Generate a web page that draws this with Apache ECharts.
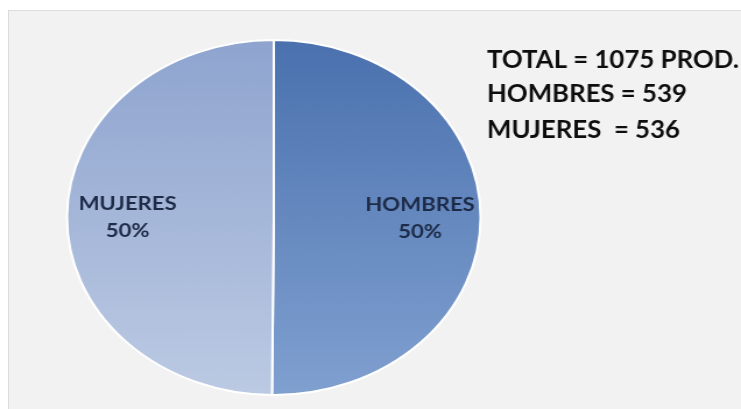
<!DOCTYPE html>
<html>
<head>
<meta charset="utf-8">
<script src="https://cdn.jsdelivr.net/npm/echarts@6/dist/echarts.min.js"></script>
<style>
  html, body { margin: 0; padding: 0; background: #ffffff; }
  #panel {
    position: absolute; left: 8px; top: 10px; width: 733px; height: 399px;
    background: #f2f2f2; border-top: 1px solid #dcdcdc; border-left: 1px solid #dcdcdc;
  }
  /* Chart is laid out at its native width and widened to fill the frame */
  #chart {
    position: absolute; left: 0; top: 0; width: 636px; height: 409px;
    transform-origin: 0 0; transform: scaleX(1.16509);
  }
</style>
</head>
<body>
<div id="panel"></div>
<div id="chart"></div>
<script>
// Productores por sexo
const categories = ['HOMBRES', 'MUJERES'];
const values = [539, 536];
const sliceTop = ['#4a71ae', '#8ea4cf'];
const sliceBottom = ['#80a0d0', '#bccae3'];

const total = values.reduce((a, b) => a + b, 0);
const summaryLines = [
  'TOTAL = ' + total + ' PROD.',
  categories[0] + ' = ' + values[0],
  categories[1] + '  = ' + values[1]
];
const summaryY = [59.5, 93.5, 130];

const pieData = categories.map((name, i) => ({
  name: name,
  value: values[i],
  itemStyle: {
    color: new echarts.graphic.LinearGradient(0, 0, 0, 1, [
      { offset: 0, color: sliceTop[i] },
      { offset: 1, color: sliceBottom[i] }
    ])
  }
}));

const chart = echarts.init(document.getElementById('chart'), null, { renderer: 'canvas' });
const center = [235, 217.5];
const R = 177.5;

chart.setOption({
  animation: false,
  series: [
    {
      type: 'pie',
      center: center,
      radius: [0, R],
      startAngle: 90,
      clockwise: true,
      percentPrecision: 0,
      silent: true,
      label: { show: false },
      labelLine: { show: false },
      itemStyle: { borderColor: '#ffffff', borderWidth: 2 },
      data: pieData
    },
    {
      // label ring: places the category labels toward the rim
      type: 'pie',
      center: center,
      radius: [R * 0.38, R],
      startAngle: 90,
      clockwise: true,
      percentPrecision: 0,
      silent: true,
      itemStyle: { color: 'rgba(0,0,0,0)' },
      label: {
        show: true,
        position: 'inside',
        formatter: '{b}\n{d}%',
        fontFamily: 'Lato',
        fontWeight: 'bold',
        fontSize: 19,
        lineHeight: 27,
        color: '#1d2b47'
      },
      labelLine: { show: false },
      data: categories.map((name, i) => ({ name: name, value: values[i] }))
    }
  ],
  graphic: summaryLines.map((t, i) => ({
    type: 'text',
    x: 418,
    y: summaryY[i],
    scaleX: 0.885,
    style: {
      text: t,
      font: 'bold 25px Lato',
      fill: '#0d0d0d',
      verticalAlign: 'middle',
      align: 'left'
    }
  }))
});
</script>
</body>
</html>
